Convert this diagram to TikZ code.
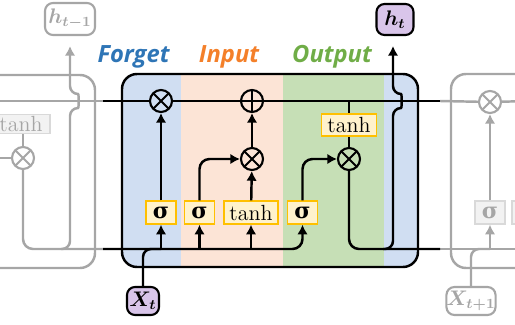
\documentclass[tikz,border=0pt]{standalone}
\usepackage{amsmath}
\usepackage{amssymb}
\usepackage{fontspec}
\usepackage{tikz}
\usetikzlibrary{arrows.meta}
\newfontfamily\gatefont{Open Sans}
\newfontfamily\greekfont{DejaVu Serif}
\newcommand{\sig}{{\greekfont\bfseries σ}}
\definecolor{fgtfill}{HTML}{D0DEF2}
\definecolor{inpfill}{HTML}{FCE4D6}
\definecolor{outfill}{HTML}{C6DFB6}
\definecolor{fgttext}{HTML}{2E75B6}
\definecolor{inptext}{HTML}{F4802A}
\definecolor{outtext}{HTML}{70AD47}
\definecolor{actfill}{HTML}{FFF2CC}
\definecolor{actdraw}{HTML}{FFC000}
\definecolor{iofill}{HTML}{D9C5EA}
\definecolor{ghost}{HTML}{A6A6A6}

\begin{document}
\begin{tikzpicture}[x=0.02cm,y=-0.02cm,
  >={Latex[length=5.5pt,width=6pt]},
  wire/.style={line width=1.4pt},
  ghostwire/.style={line width=1.4pt,color=ghost},
  act/.style={draw=actdraw,fill=actfill,line width=1.1pt,inner sep=0pt,
    minimum width=0.6cm,minimum height=0.45cm,font=\fontsize{12.5}{14}\selectfont},
  ghostact/.style={act,draw=black!15,fill=black!5,text=ghost},
  mul/.style={circle,draw=#1,line width=1.2pt,minimum size=0.44cm,inner sep=0pt,
    path picture={\draw[#1,line width=1.1pt]
      (path picture bounding box.north west) -- (path picture bounding box.south east)
      (path picture bounding box.south west) -- (path picture bounding box.north east);}},
  plus/.style={circle,draw=#1,line width=1.2pt,minimum size=0.44cm,inner sep=0pt,
    path picture={\draw[#1,line width=1.1pt]
      (path picture bounding box.north) -- (path picture bounding box.south)
      (path picture bounding box.west) -- (path picture bounding box.east);}},
  io/.style={draw,fill=iofill,line width=1.2pt,rounded corners=0.16cm,inner sep=0pt,
    font=\fontsize{12}{14}\selectfont},
  ghostio/.style={io,draw=ghost,fill=white,text=ghost},
  gatelabel/.style={font=\gatefont\bfseries\itshape\fontsize{13.5}{15}\selectfont,anchor=base}]
\useasboundingbox (0,0) rectangle (515,325);
\clip (0,0) rectangle (515,325);

% gate regions
\begin{scope}
\clip[rounded corners=0.3cm] (122,74) rectangle (418,267);
\fill[fgtfill] (122,74) rectangle (181,267);
\fill[inpfill] (181,74) rectangle (283,267);
\fill[outfill] (283,74) rectangle (384,267);
\fill[fgtfill] (384,74) rectangle (418,267);
\end{scope}
\draw[wire,rounded corners=0.3cm] (122,74) rectangle (418,267);

\node[gatelabel,text=fgttext] (lblfgt) at (133.5,62.5) {Forget};
\node[gatelabel,text=inptext] (lblinp) at (229,62.5) {Input};
\node[gatelabel,text=outtext] (lblout) at (332,62.5) {Output};

% previous and next cells
\draw[ghostwire,rounded corners=0.3cm] (-20,75) -| (95,268) -- (-20,268);
\draw[ghostwire,rounded corners=0.3cm] (540,74) -| (451,268) -- (540,268);

\coordinate (cin) at (103,101);
\coordinate (cout) at (440,101);
\coordinate (hin) at (103,249);
\coordinate (hout) at (440,249);
\coordinate (pleft) at (0,101);
\coordinate (pstub) at (0,158);
\coordinate (pbr) at (61,249);
\coordinate (hbr) at (383,249);
\coordinate (nright) at (530,101);
\coordinate (hright) at (530,249);

\node[ghostact,minimum width=1.16cm,minimum height=0.38cm] (ptanh) at (21,124) {tanh};
\node[mul=ghost,fill=white] (pmul) at (23,158) {};
\node[ghostio,minimum width=1.0cm,minimum height=0.64cm] (hprev) at (70,19) {$\boldsymbol{h_{t-1}}$};

\node[mul=ghost,fill=white] (nmul) at (490,102) {};
\node[ghostact] (ns) at (490,212.5) {\sig};
\node[ghostact] (n2) at (527,212.5) {};
\node[ghostio,minimum width=0.96cm,minimum height=0.56cm] (xnext) at (471,301) {$\boldsymbol{X_{t+1}}$};

\draw[ghostwire] (pleft) -- (cin);
\draw[ghostwire] (ptanh.north -| pmul |- cin) -- (pmul |- ptanh.north);
\draw[ghostwire] (pmul |- ptanh.south) -- (pmul);
\draw[ghostwire] (pstub) -- (pmul);
\draw[ghostwire,rounded corners=0.2cm] (pmul) |- (hin);
\draw[ghostwire,->,rounded corners=0.16cm,shorten >=0.2cm] (pbr) -| (70,108)
  .. controls (79,108) and (79,94) .. (70,94) -- (hprev);

\draw[ghostwire] (cout) -- (nmul);
\draw[ghostwire] (nmul) -- (nright);
\draw[ghostwire] (hout) -- (hright);
\draw[ghostwire,rounded corners=0.16cm] (xnext) |- (ns.south |- hout);
\draw[ghostwire,->] (ns.south |- hout) -- (ns);
\draw[ghostwire,->] (ns) -- (nmul);

% the cell
\node[mul=black,fill=fgtfill] (fgt) at (161,101) {};
\node[plus=black,fill=inpfill] (add) at (252,101) {};
\node[mul=black,fill=inpfill] (inmul) at (252,159) {};
\node[mul=black,fill=outfill] (outmul) at (349,159) {};
\node[act,minimum width=1.1cm] (ctanh) at (349,125) {tanh};
\node[act] (sf) at (161,212.5) {\sig};
\node[act] (si) at (199.5,212.5) {\sig};
\node[act,minimum width=1.08cm] (ti) at (251,212.5) {tanh};
\node[act] (so) at (302.5,212.5) {\sig};
\node[io,minimum width=0.74cm,minimum height=0.62cm] (ht) at (395,19.5) {$\boldsymbol{h_t}$};
\node[io,minimum width=0.64cm,minimum height=0.56cm] (xt) at (143,301) {$\boldsymbol{X_t}$};

\draw[wire] (cin) -- (fgt);
\draw[wire] (fgt) -- (add);
\draw[wire] (add) -- (cout);

\draw[wire,->,rounded corners=0.2cm] (hin) -| (so);
\draw[wire,rounded corners=0.16cm] (xt) |- (sf.south |- hin);
\draw[wire,->] (sf.south |- hin) -- (sf);
\draw[wire,->] (si.south |- hin) -- (si);
\draw[wire,->] (ti.south |- hin) -- (ti);

\draw[wire,->] (sf) -- (fgt);
\draw[wire,->,rounded corners=0.2cm] (si) |- (inmul);
\draw[wire,->] (ti) -- (inmul);
\draw[wire,->] (inmul) -- (add);
\draw[wire,->,rounded corners=0.2cm] (so) |- (outmul);
\draw[wire] (ctanh.north |- cin) -- (ctanh);
\draw[wire] (ctanh) -- (outmul);
\draw[wire,rounded corners=0.2cm] (outmul) |- (hout);
\draw[wire,->,rounded corners=0.16cm,shorten >=0.22cm] (hbr) -| (393,108)
  .. controls (402,108) and (402,94) .. (393,94) -- (393,35);
\end{tikzpicture}
\end{document}
